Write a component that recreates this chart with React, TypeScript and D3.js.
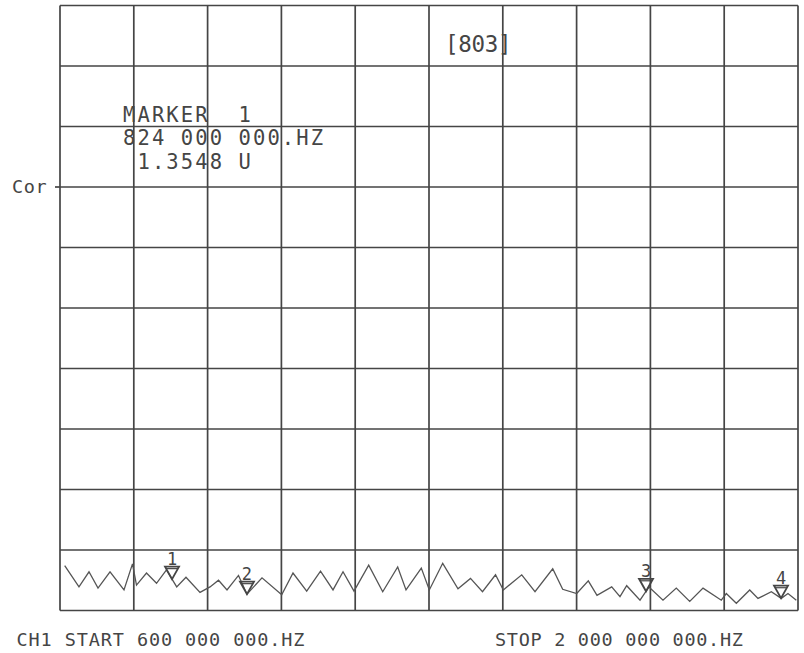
import React from "react";
import * as d3 from "d3";

const startMHz = 600;
const stopMHz = 2000;
const xDivisions = 10;
const yDivisions = 10;

const traceFreqMHz = [
  608.9, 636.0, 655.0, 672.1, 694.9, 721.4, 737.5, 745.1, 764.1, 783.1,
  802.0, 821.4, 839.0, 865.6, 884.6, 900.7, 916.8, 938.6, 954.7, 983.2,
  1020.6, 1042.0, 1068.0, 1094.2, 1117.9, 1136.9, 1157.7, 1185.6, 1212.2, 1240.6,
  1256.4, 1285.4, 1300.6, 1326.0, 1355.0, 1378.7, 1401.5, 1426.2, 1441.0, 1475.9,
  1501.1, 1534.7, 1553.6, 1580.2, 1602.2, 1618.7, 1646.6, 1662.3, 1675.0, 1700.3,
  1717.3, 1743.9, 1769.1, 1794.6, 1819.8, 1854.5, 1864.0, 1883.0, 1908.4, 1924.1,
  1949.4, 1968.3, 1981.0, 1996.8,
];

const traceDiv = [
  0.74, 0.39, 0.64, 0.37, 0.64, 0.34, 0.77, 0.42, 0.62, 0.45,
  0.67, 0.39, 0.55, 0.3, 0.39, 0.5, 0.34, 0.58, 0.27, 0.54,
  0.26, 0.62, 0.32, 0.65, 0.34, 0.64, 0.32, 0.75, 0.31, 0.72,
  0.34, 0.7, 0.34, 0.78, 0.36, 0.53, 0.31, 0.59, 0.34, 0.59,
  0.31, 0.69, 0.35, 0.28, 0.49, 0.25, 0.39, 0.23, 0.41, 0.17,
  0.39, 0.17, 0.37, 0.15, 0.37, 0.17, 0.28, 0.12, 0.34, 0.2,
  0.31, 0.2, 0.28, 0.17,
];

const markerLabels = ["1", "2", "3", "4"];
const markerFreqMHz = [812.5, 954.7, 1711.7, 1967.8];

const markerTextLines = ["MARKER  1", "824 000 000.HZ", " 1.3548 U"];
const titleText = "[803]";
const refLabel = "Cor";
const refDivision = 7;
const startLabel = "CH1 START 600 000 000.HZ";
const stopLabel = "STOP 2 000 000 000.HZ";

const W = 804;
const H = 653;
const ink = "#454545";
const font = "'DejaVu Sans Mono', monospace";

export default function App() {
  const x = d3.scaleLinear().domain([startMHz, stopMHz]).range([60, 798]);
  const y = d3.scaleLinear().domain([0, yDivisions]).range([610.5, 5.5]);

  const xGrid = d3.range(0, xDivisions + 1).map((i) => startMHz + ((stopMHz - startMHz) * i) / xDivisions);
  const yGrid = d3.range(0, yDivisions + 1);

  const pts: [number, number][] = traceFreqMHz.map((f, i) => [f, traceDiv[i]]);
  const line = d3
    .line<[number, number]>()
    .x((d) => x(d[0]))
    .y((d) => y(d[1]));

  const valueAt = (f: number) => {
    const i = d3.bisector((d: number) => d).right(traceFreqMHz, f);
    if (i <= 0) return traceDiv[0];
    if (i >= traceFreqMHz.length) return traceDiv[traceDiv.length - 1];
    const f0 = traceFreqMHz[i - 1];
    const f1 = traceFreqMHz[i];
    const t = (f - f0) / (f1 - f0);
    return traceDiv[i - 1] + t * (traceDiv[i] - traceDiv[i - 1]);
  };

  const triW = 14;
  const triH = 12.5;

  return (
    <svg
      width={W}
      height={H}
      viewBox={`0 0 ${W} ${H}`}
      style={{ position: "absolute", left: 0, top: 0, background: "#fff" }}
    >
      <rect x={0} y={0} width={W} height={H} fill="#fff" />
      <g stroke={ink} strokeWidth={1.7} fill="none">
        {xGrid.map((f, i) => (
          <line key={"vx" + i} x1={x(f)} x2={x(f)} y1={y(0)} y2={y(yDivisions)} />
        ))}
        {yGrid.map((v, i) => (
          <line key={"hy" + i} x1={x(startMHz)} x2={x(stopMHz)} y1={y(v)} y2={y(v)} />
        ))}
        <line x1={x(startMHz) - 5} x2={x(startMHz)} y1={y(refDivision)} y2={y(refDivision)} />
      </g>
      <path d={line(pts) || ""} fill="none" stroke="#555" strokeWidth={1.3} strokeLinejoin="miter" />
      {markerFreqMHz.map((f, i) => {
        const mx = x(f);
        const my = y(valueAt(f));
        return (
          <g key={"m" + i}>
            <path
              d={`M${mx - triW / 2},${my - triH} L${mx + triW / 2},${my - triH} L${mx},${my} Z`}
              fill="none"
              stroke={ink}
              strokeWidth={1.8}
            />
            <line x1={mx - triW / 2 + 1} x2={mx + triW / 2 - 1} y1={my - triH + 2} y2={my - triH + 2} stroke={ink} strokeWidth={1.2} />
            <text
              x={mx}
              y={my - triH - 1.5}
              textAnchor="middle"
              fontFamily={font}
              fontSize={17}
              fill={ink}
            >
              {markerLabels[i]}
            </text>
          </g>
        );
      })}
      <g fontFamily={font} fill={ink}>
        {markerTextLines.map((t, i) => (
          <text key={"mt" + i} x={123} y={121.5 + i * 23.5} fontSize={20.5} letterSpacing={2.1} style={{ whiteSpace: "pre" }}>
            {t}
          </text>
        ))}
        <text x={445} y={51.5} fontSize={22.5} letterSpacing={-0.3}>
          {titleText}
        </text>
        <text x={12} y={192.5} fontSize={18.5} letterSpacing={0.6}>
          {refLabel}
        </text>
        <text x={16.5} y={645.5} fontSize={18.5} letterSpacing={0.9} style={{ whiteSpace: "pre" }}>
          {startLabel}
        </text>
        <text x={495} y={645.5} fontSize={18.5} letterSpacing={0.7} style={{ whiteSpace: "pre" }}>
          {stopLabel}
        </text>
      </g>
    </svg>
  );
}
